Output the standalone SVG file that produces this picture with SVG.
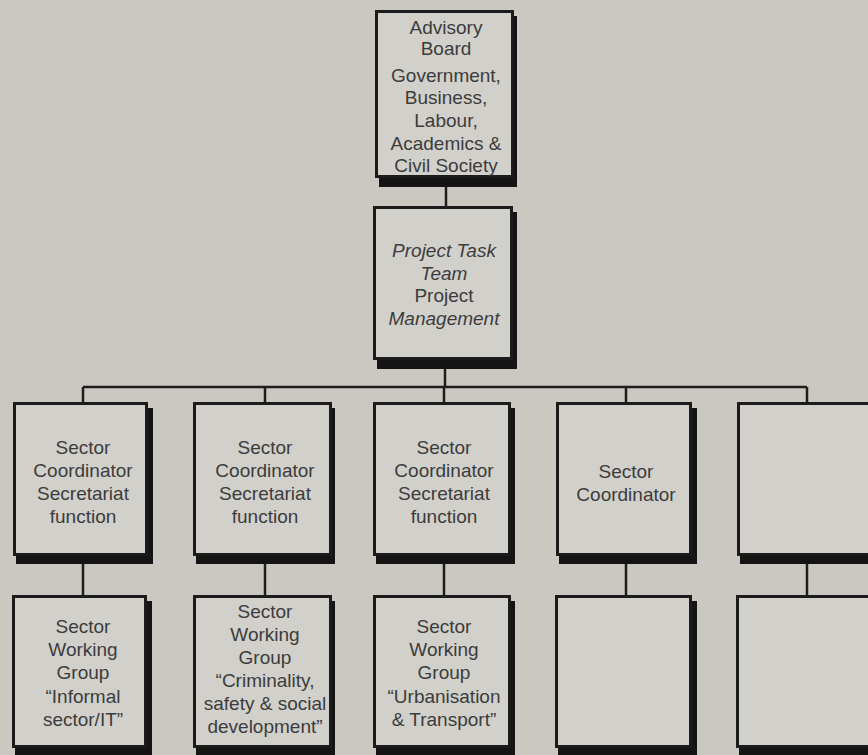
<svg xmlns="http://www.w3.org/2000/svg" width="868" height="755" viewBox="0 0 868 755">
<style>
.bg{fill:#cbc8c2}
.box{fill:#d2d0cb;stroke:#1b1b1b;stroke-width:3}
.sh{fill:#141414}
.wire{fill:none;stroke:#1e1e1e;stroke-width:2.5}
text{font-family:"Liberation Sans",Arial,sans-serif;font-size:19px;fill:#3c3c3c;text-anchor:middle}
.it{font-style:italic}
</style>
<rect class="bg" x="0" y="0" width="868" height="755"/>
<g id="connectors">
<path class="wire" d="M446 178V206M445 360V387M83 387H807M83 387V402M265 387V402M444 387V402M626 387V402M807 387V402"/>
<path class="wire" d="M83 564V595M265 564V595M444 564V595M626 564V595M807 564V595"/>
</g>
<g id="advisory-board">
<rect class="sh" x="379" y="16" width="138" height="171"/>
<rect class="box" x="376.5" y="11.5" width="136" height="165"/>
<text x="446" y="34">Advisory</text>
<text x="446" y="55">Board</text>
<text x="446" y="82">Government,</text>
<text x="446" y="104">Business,</text>
<text x="446" y="127">Labour,</text>
<text x="446" y="150">Academics &amp;</text>
<text x="446" y="172">Civil Society</text>
</g>
<g id="project-task-team">
<rect class="sh" x="377" y="212" width="140" height="157"/>
<rect class="box" x="374.5" y="207.5" width="137" height="151"/>
<text class="it" x="444" y="257">Project Task</text>
<text class="it" x="444" y="280">Team</text>
<text x="444" y="302">Project</text>
<text class="it" x="444" y="325">Management</text>
</g>
<g id="coord-1">
<rect class="sh" x="16" y="408" width="137" height="156"/>
<rect class="box" x="14.5" y="403.5" width="132" height="151"/>
<text x="83" y="454">Sector</text>
<text x="83" y="477">Coordinator</text>
<text x="83" y="500">Secretariat</text>
<text x="83" y="523">function</text>
</g>
<g id="coord-2">
<rect class="sh" x="196" y="408" width="139" height="156"/>
<rect class="box" x="194.5" y="403.5" width="136" height="151"/>
<text x="265" y="454">Sector</text>
<text x="265" y="477">Coordinator</text>
<text x="265" y="500">Secretariat</text>
<text x="265" y="523">function</text>
</g>
<g id="coord-3">
<rect class="sh" x="376" y="408" width="139" height="156"/>
<rect class="box" x="374.5" y="403.5" width="135" height="151"/>
<text x="444" y="454">Sector</text>
<text x="444" y="477">Coordinator</text>
<text x="444" y="500">Secretariat</text>
<text x="444" y="523">function</text>
</g>
<g id="coord-4">
<rect class="sh" x="559" y="408" width="138" height="156"/>
<rect class="box" x="557.5" y="403.5" width="133" height="151"/>
<text x="626" y="478">Sector</text>
<text x="626" y="501">Coordinator</text>
</g>
<g id="coord-5">
<rect class="sh" x="740" y="408" width="140" height="156"/>
<rect class="box" x="738.5" y="403.5" width="135" height="151"/>
</g>
<g id="group-1">
<rect class="sh" x="15" y="601" width="137" height="160"/>
<rect class="box" x="13.5" y="596.5" width="132" height="150"/>
<text x="83" y="633">Sector</text>
<text x="83" y="656">Working</text>
<text x="83" y="679">Group</text>
<text x="83" y="703">“Informal</text>
<text x="83" y="726">sector/IT”</text>
</g>
<g id="group-2">
<rect class="sh" x="196" y="601" width="139" height="160"/>
<rect class="box" x="194.5" y="596.5" width="136" height="150"/>
<text x="265" y="618">Sector</text>
<text x="265" y="641">Working</text>
<text x="265" y="664">Group</text>
<text x="265" y="687">“Criminality,</text>
<text x="265" y="710">safety &amp; social</text>
<text x="265" y="733">development”</text>
</g>
<g id="group-3">
<rect class="sh" x="376" y="601" width="139" height="160"/>
<rect class="box" x="374.5" y="596.5" width="135" height="150"/>
<text x="444" y="633">Sector</text>
<text x="444" y="656">Working</text>
<text x="444" y="679">Group</text>
<text x="444" y="703">“Urbanisation</text>
<text x="444" y="726">&amp; Transport”</text>
</g>
<g id="group-4">
<rect class="sh" x="558" y="601" width="139" height="160"/>
<rect class="box" x="556.5" y="596.5" width="134" height="150"/>
</g>
<g id="group-5">
<rect class="sh" x="739" y="601" width="140" height="160"/>
<rect class="box" x="737.5" y="596.5" width="135" height="150"/>
</g>
</svg>
